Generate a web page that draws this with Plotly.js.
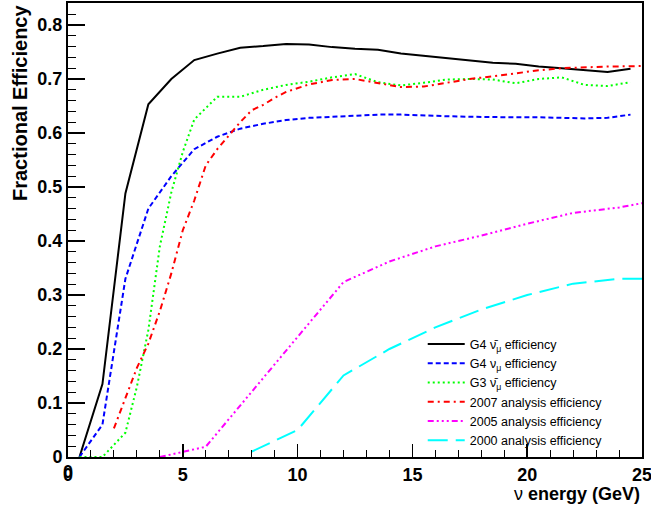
<!DOCTYPE html>
<html>
<head>
<meta charset="utf-8">
<script src="https://cdn.plot.ly/plotly-3.0.1.min.js"></script>
<style>html,body{margin:0;padding:0;background:#fff;}#chart{width:651px;height:510px;}</style>
</head>
<body>
<div id="chart"></div>
<script>
// ---- data ----
const g4BarE = [0.5,1.5,2.5,3.5,4.5,5.5,6.5,7.5,8.5,9.5,10.5,11.5,12.5,13.5,14.5,15.5,16.5,17.5,18.5,19.5,20.5,21.5,22.5,23.5,24.5];
const g4BarEff = [0,0.135,0.488,0.653,0.700,0.735,0.747,0.758,0.761,0.765,0.764,0.759,0.756,0.754,0.747,0.743,0.739,0.734,0.730,0.728,0.723,0.720,0.717,0.713,0.719];

const g4NuE = [0.5,1.5,2.5,3.5,4.5,5.5,6.5,7.5,8.5,9.5,10.5,11.5,12.5,13.5,14.5,15.5,16.5,17.5,18.5,19.5,20.5,21.5,22.5,23.5,24.5];
const g4NuEff = [0,0.060,0.330,0.460,0.520,0.570,0.593,0.608,0.617,0.624,0.628,0.630,0.632,0.634,0.634,0.632,0.631,0.630,0.629,0.629,0.629,0.628,0.627,0.628,0.634];

const g3BarE = [0.5,1.5,2.5,3.0,3.5,4.0,4.5,5.0,5.5,6.5,7.5,8.5,9.5,10.5,11.5,12.5,13.5,14.5,15.5,16.5,17.5,18.5,19.5,20.5,21.5,22.5,23.5,24.5];
const g3BarEff = [0,0,0.045,0.130,0.235,0.390,0.490,0.565,0.625,0.667,0.667,0.680,0.689,0.695,0.703,0.709,0.694,0.688,0.693,0.699,0.700,0.699,0.692,0.700,0.703,0.689,0.687,0.694];

const a2007E = [2.0,2.5,3.0,3.5,4.0,4.5,5.0,5.5,6.0,6.5,7.0,7.5,8.0,8.5,9.0,9.5,10.5,11.5,12.5,13.5,14.5,15.5,16.5,17.5,18.5,19.5,20.5,21.5,22.5,23.5,25.0];
const a2007Eff = [0.053,0.110,0.165,0.210,0.270,0.340,0.420,0.475,0.540,0.570,0.595,0.620,0.642,0.652,0.665,0.676,0.690,0.698,0.700,0.692,0.685,0.686,0.693,0.700,0.705,0.711,0.716,0.720,0.722,0.723,0.724];

const a2005E = [4,6,12,14,16,18,20,22,24,25];
const a2005Eff = [0,0.019,0.324,0.362,0.390,0.410,0.432,0.452,0.462,0.470];

const a2000E = [8,10,12,14,16,18,20,22,24,25];
const a2000Eff = [0.010,0.050,0.151,0.200,0.240,0.273,0.300,0.321,0.330,0.330];

const xTickVals = [0,5,10,15,20,25];
const xTickText = ["0","5","10","15","20","25"];

const seriesNames = [
  "G4 \u03BD\u0304<sub>\u03BC</sub> efficiency",
  "G4 \u03BD<sub>\u03BC</sub> efficiency",
  "G3 \u03BD\u0304<sub>\u03BC</sub> efficiency",
  "2007 analysis efficiency",
  "2005 analysis efficiency",
  "2000 analysis efficiency"
];
const xTitle = "\u03BD <b>energy (GeV)</b>";
const yTitle = "<b>Fractional Efficiency</b>";

// ---- plot ----
const traces = [
  {x: g4BarE, y: g4BarEff, name: seriesNames[0], line: {color: "#000000", width: 2, dash: "solid"}},
  {x: g4NuE, y: g4NuEff, name: seriesNames[1], line: {color: "#0000ff", width: 2, dash: "5px,3px"}},
  {x: g3BarE, y: g3BarEff, name: seriesNames[2], line: {color: "#00ff00", width: 2, dash: "2px,3px"}},
  {x: a2007E, y: a2007Eff, name: seriesNames[3], line: {color: "#ff0000", width: 2, dash: "6px,4px,2px,4px"}},
  {x: a2005E, y: a2005Eff, name: seriesNames[4], line: {color: "#ff00ff", width: 2, dash: "6px,3px,2px,3px,2px,3px,2px,3px"}},
  {x: a2000E, y: a2000Eff, name: seriesNames[5], line: {color: "#00ffff", width: 2, dash: "20px,8px"}}
].map(t => Object.assign({type: "scatter", mode: "lines", hoverinfo: "skip"}, t));

const tickFont = {family: "Liberation Sans, Arial, sans-serif", size: 18, color: "#000", weight: "bold"};

const layout = {
  width: 651, height: 510,
  margin: {l: 68, r: 9, t: 3, b: 53},
  paper_bgcolor: "#fff", plot_bgcolor: "#fff",
  showlegend: true,
  legend: {
    x: 0.618, y: 0.281, xanchor: "left", yanchor: "top",
    bgcolor: "rgba(0,0,0,0)", borderwidth: 0,
    font: {family: "Liberation Sans, Arial, sans-serif", size: 12.5, color: "#000"},
    itemwidth: 37, traceorder: "normal"
  },
  xaxis: {
    range: [0, 25],
    tickmode: "array", tickvals: xTickVals, ticktext: xTickText,
    showgrid: false, zeroline: false,
    showline: true, mirror: true, linecolor: "#000", linewidth: 2,
    ticks: "inside", ticklen: 13, tickwidth: 1.5, tickcolor: "#000",
    minor: {ticks: "inside", tickmode: "linear", tick0: 0, dtick: 1, ticklen: 7, tickwidth: 1, tickcolor: "#000", showgrid: false},
    tickfont: tickFont, ticklabeloverflow: "allow"
  },
  yaxis: {
    range: [0, 0.8407], dtick: 0.1, tick0: 0,
    showgrid: false, zeroline: false,
    showline: true, mirror: true, linecolor: "#000", linewidth: 2,
    ticks: "inside", ticklen: 17, tickwidth: 1.5, tickcolor: "#000",
    minor: {ticks: "inside", dtick: 0.02, ticklen: 8, tickwidth: 1, tickcolor: "#000", showgrid: false},
    tickfont: tickFont, ticklabeloverflow: "allow"
  },
  annotations: [
    {text: yTitle, xref: "paper", yref: "paper", x: -0.0836, y: 1, xanchor: "center", yanchor: "top",
     textangle: -90, showarrow: false, font: {family: "Liberation Sans, Arial, sans-serif", size: 20, color: "#000"}},
    {text: xTitle, xref: "paper", yref: "paper", x: 1, y: -0.0815, xanchor: "right", yanchor: "middle",
     showarrow: false, font: {family: "Liberation Sans, Arial, sans-serif", size: 18, color: "#000"}},
    // x-axis "0" label (Plotly suppresses the corner label; ROOT draws it)
    {text: "<b>" + xTickText[0] + "</b>", xref: "x", yref: "paper", x: xTickVals[0], y: 0, xanchor: "center", yanchor: "top",
     yshift: -3, showarrow: false, font: {family: "Liberation Sans, Arial, sans-serif", size: 18, color: "#000"}}
  ]
};

Plotly.newPlot("chart", traces, layout, {staticPlot: true, displayModeBar: false});
</script>
</body>
</html>
